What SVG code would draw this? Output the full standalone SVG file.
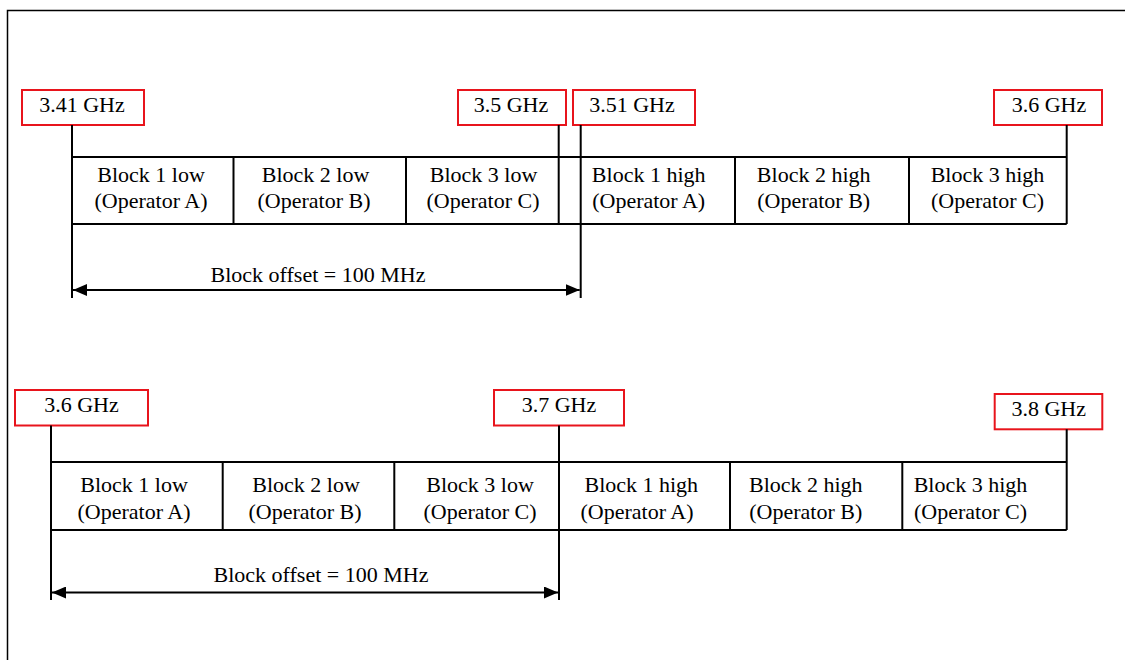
<svg xmlns="http://www.w3.org/2000/svg" width="1125" height="660" viewBox="0 0 1125 660">
<style>
text{font-family:"Liberation Serif","Times New Roman","DejaVu Serif",serif;font-size:22px;fill:#000}
.c{text-anchor:middle}
.tag{fill:#fff;stroke:#e8141c;stroke-width:2}
.ln{stroke:#000;stroke-width:2;fill:none}
</style>
<defs>
<marker id="ah" viewBox="0 0 14 12" refX="14" refY="6" markerWidth="14" markerHeight="12" markerUnits="userSpaceOnUse" orient="auto-start-reverse">
<path d="M0,0 L14,6 L0,12 Z" fill="#000"/>
</marker>
</defs>
<rect width="1125" height="660" fill="#fff"/>
<path d="M7.5,660 V10.5 H1125" fill="none" stroke="#000" stroke-width="1.5"/>

<!-- Row 1 -->
<g id="row1-blocks">
<path class="ln" d="M72,157 H1066.7 M72,224 H1066.7"/>
<g id="r1-b1l"><path class="ln" d="M233.5,157 V224"/><text class="c" x="151" y="182">Block 1 low</text><text class="c" x="151" y="208">(Operator A)</text></g>
<g id="r1-b2l"><path class="ln" d="M406,157 V224"/><text class="c" x="315.5" y="182">Block 2 low</text><text class="c" x="314" y="208">(Operator B)</text></g>
<g id="r1-b3l"><text class="c" x="483.5" y="182">Block 3 low</text><text class="c" x="483" y="208">(Operator C)</text></g>
<g id="r1-b1h"><path class="ln" d="M735,157 V224"/><text class="c" x="648.7" y="182">Block 1 high</text><text class="c" x="648.7" y="208">(Operator A)</text></g>
<g id="r1-b2h"><path class="ln" d="M909,157 V224"/><text class="c" x="813.7" y="182">Block 2 high</text><text class="c" x="813.7" y="208">(Operator B)</text></g>
<g id="r1-b3h"><text class="c" x="987.5" y="182">Block 3 high</text><text class="c" x="987.5" y="208">(Operator C)</text></g>
</g>
<g id="r1-tag-341"><rect class="tag" x="22" y="90" width="122" height="35"/><text class="c" x="82" y="112">3.41 GHz</text></g>
<g id="r1-tag-35"><rect class="tag" x="458" y="90" width="108" height="35"/><text class="c" x="511" y="112">3.5 GHz</text></g>
<g id="r1-tag-351"><rect class="tag" x="573" y="90" width="122" height="35"/><text class="c" x="632" y="112">3.51 GHz</text></g>
<g id="r1-tag-36"><rect class="tag" x="994" y="90" width="108" height="35"/><text class="c" x="1049" y="112">3.6 GHz</text></g>
<g id="r1-connectors">
<path class="ln" d="M72,125 V298 M558.7,125 V224 M580.7,125 V298 M1066.7,125 V224"/>
<line class="ln" x1="73" y1="290" x2="579.7" y2="290" marker-start="url(#ah)" marker-end="url(#ah)"/>
</g>
<text id="r1-offset" class="c" x="318" y="282">Block offset = 100 MHz</text>

<!-- Row 2 -->
<g id="row2-blocks">
<path class="ln" d="M51,462 H1066.7 M51,530 H1066.7"/>
<g id="r2-b1l"><path class="ln" d="M222.7,462 V530"/><text class="c" x="134" y="492">Block 1 low</text><text class="c" x="134" y="518.5">(Operator A)</text></g>
<g id="r2-b2l"><path class="ln" d="M394.3,462 V530"/><text class="c" x="306" y="492">Block 2 low</text><text class="c" x="305" y="518.5">(Operator B)</text></g>
<g id="r2-b3l"><text class="c" x="480" y="492">Block 3 low</text><text class="c" x="480" y="518.5">(Operator C)</text></g>
<g id="r2-b1h"><path class="ln" d="M730,462 V530"/><text class="c" x="641.3" y="492">Block 1 high</text><text class="c" x="637" y="518.5">(Operator A)</text></g>
<g id="r2-b2h"><path class="ln" d="M902.3,462 V530"/><text class="c" x="805.8" y="492">Block 2 high</text><text class="c" x="805.8" y="518.5">(Operator B)</text></g>
<g id="r2-b3h"><text class="c" x="970.5" y="492">Block 3 high</text><text class="c" x="970.5" y="518.5">(Operator C)</text></g>
</g>
<g id="r2-tag-36"><rect class="tag" x="15" y="390" width="133" height="35.5"/><text class="c" x="81.5" y="412">3.6 GHz</text></g>
<g id="r2-tag-37"><rect class="tag" x="494" y="390" width="130" height="35.5"/><text class="c" x="559" y="412">3.7 GHz</text></g>
<g id="r2-tag-38"><rect class="tag" x="994.7" y="394" width="107.6" height="35.3"/><text class="c" x="1048.7" y="416">3.8 GHz</text></g>
<g id="r2-connectors">
<path class="ln" d="M51,425.5 V600 M559,425.5 V600 M1066.7,429.3 V530"/>
<line class="ln" x1="52" y1="592.5" x2="558" y2="592.5" marker-start="url(#ah)" marker-end="url(#ah)"/>
</g>
<text id="r2-offset" class="c" x="321" y="582">Block offset = 100 MHz</text>
</svg>
